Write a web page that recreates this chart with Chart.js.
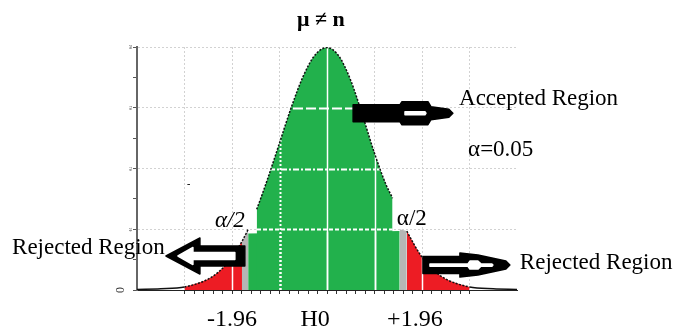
<!DOCTYPE html>
<html>
<head>
<meta charset="utf-8">
<title>Two tailed test</title>
<script src="https://cdn.jsdelivr.net/npm/chart.js@4.4.0/dist/chart.umd.min.js"></script>
<style>
  html, body { margin: 0; padding: 0; background: #fff; }
  canvas { display: block; }
</style>
</head>
<body>
<canvas id="chart" width="679" height="334"></canvas>
<script>
// ---------- Data ----------
const curveX = [-4, -3.5, -3, -2.5, -2.25, -2, -1.79, -1.66, -1.48, -1.25, -1, -0.75, -0.5, -0.25, 0,
                0.25, 0.5, 0.75, 1, 1.25, 1.38, 1.53, 1.68, 2, 2.25, 2.5, 3, 3.5, 4];
const curveY = [0.001, 0.002, 0.005, 0.018, 0.032, 0.054, 0.080, 0.100, 0.133, 0.183, 0.242, 0.301, 0.352, 0.387, 0.399,
                0.385, 0.345, 0.287, 0.225, 0.172, 0.151, 0.122, 0.097, 0.054, 0.032, 0.018, 0.005, 0.002, 0.001];

// coloured regions (x ranges on the curve)
const leftTail = [-3, -1.79];
const leftBand = [-1.79, -1.66];
const acceptTop = [-1.48, 1.38];
const rightTail = [1.68, 3];
// flat-topped pieces
const acceptStepX = [-1.66, 1.53];
const acceptStepY = [0.093, 0.097];
const rightBandX = [1.53, 1.68];
const rightBandY = [0.100, 0.097];
// parts of the outline that are cut away
const notches = [[-1.66, -1.48], [1.38, 1.68]];

const xTickValues = [-2, -0.25, 1.85];
const xTickLabels = ['-1.96', 'H0', '+1.96'];
const yTickValues = [0, 0.1, 0.2, 0.3, 0.4];
const yTickLabels = ['0', '0.1', '0.2', '0.3', '0.4'];

const GREEN = '#22b14c';
const RED = '#ed1c24';
const GREY = '#b5b5b5';
const SERIF = '"Liberation Serif", "Times New Roman", serif';

// ---------- Helpers ----------
function curvePart(from, to) {
  const pts = [];
  curveX.forEach((x, i) => {
    if (x >= from - 1e-9 && x <= to + 1e-9) pts.push({ x, y: curveY[i] });
  });
  return pts;
}
function pairs(xs, ys) {
  return xs.map((x, i) => ({ x, y: ys[i] }));
}
function inNotch(a, b) {
  return notches.some(([lo, hi]) => a >= lo - 1e-9 && b <= hi + 1e-9);
}
function isMult(v, step) {
  const r = v / step;
  return Math.abs(r - Math.round(r)) < 1e-6;
}

function fillSet(data, color, smooth) {
  return {
    data,
    fill: 'origin',
    backgroundColor: color,
    borderColor: 'rgba(0,0,0,0)',
    borderWidth: 0,
    pointRadius: 0,
    cubicInterpolationMode: smooth ? 'monotone' : 'default',
    tension: 0
  };
}

// ---------- Overlay: white grid inside fills, texts, arrows ----------
function drawWhiteGrid(chart) {
  const { ctx, scales: { x, y } } = chart;
  const base = y.getPixelForValue(0);
  const vLines = [[-2, []], [-1, [2, 2]], [0, []], [1, []], [2, []]];
  const hLines = [[0.1, [4, 2]], [0.2, [6, 2, 2, 2]], [0.3, [10, 3]]];
  [1, 2, 5, 6].forEach(i => {
    const meta = chart.getDatasetMeta(i);
    const pts = meta.data;
    if (!pts.length) return;
    ctx.save();
    ctx.beginPath();
    meta.dataset.path(ctx);
    ctx.lineTo(pts[pts.length - 1].x, base);
    ctx.lineTo(pts[0].x, base);
    ctx.closePath();
    ctx.clip();
    ctx.strokeStyle = '#fff';
    vLines.forEach(([v, dash]) => {
      const px = Math.round(x.getPixelForValue(v)) + 0.5;
      ctx.lineWidth = dash.length ? 2 : 1.5;
      ctx.setLineDash(dash);
      ctx.beginPath();
      ctx.moveTo(px, base);
      ctx.lineTo(px, chart.chartArea.top);
      ctx.stroke();
    });
    hLines.forEach(([v, dash]) => {
      const py = Math.round(y.getPixelForValue(v)) + 0.5;
      ctx.lineWidth = 2;
      ctx.setLineDash(dash);
      ctx.beginPath();
      ctx.moveTo(chart.chartArea.left, py);
      ctx.lineTo(chart.chartArea.right, py);
      ctx.stroke();
    });
    ctx.restore();
  });
}

// profile = [[dx, halfHeight], ...] along the arrow, scaled to tail->tip length
function drawArrowShape(ctx, x0, x1, yc, profile, color) {
  const d = Math.sign(x1 - x0);
  const len = Math.abs(x1 - x0);
  const k = len / profile[profile.length - 1][0];
  ctx.beginPath();
  profile.forEach(([dx, h], i) => {
    const px = x0 + d * dx * k;
    if (i === 0) ctx.moveTo(px, yc - h); else ctx.lineTo(px, yc - h);
  });
  for (let i = profile.length - 1; i >= 0; i--) {
    const [dx, h] = profile[i];
    ctx.lineTo(x0 + d * dx * k, yc + h);
  }
  ctx.closePath();
  ctx.fillStyle = color;
  ctx.fill();
  ctx.lineJoin = 'round';
  ctx.lineWidth = 1.5;
  ctx.strokeStyle = color;
  ctx.stroke();
}

const arrows = [
  { from: -1.73, to: -3.39, y: 0.056,
    outer: [[0, 10], [45, 10], [45, 18], [79, 0]],
    inner: [[10, 3.5], [52, 3.5], [52, 8.5], [67, 0]] },
  { from: 0.55, to: 2.65, y: 0.291,
    outer: [[0, 8.5], [47, 8.5], [49, 11.5], [75, 11.5], [78, 6.5], [96, 4], [100, 0]],
    inner: [[52, 1.5], [72, 1.5], [73, 0]] },
  { from: 2.02, to: 3.85, y: 0.041,
    outer: [[0, 8.5], [37, 8.5], [37, 12], [55, 10], [83, 4], [87, 0]],
    inner: [[7, 1.2], [45, 1.2], [47, 4], [55, 4], [58, 1.2], [69, 1.2], [70, 0]] }
];

const notes = [
  { text: 'μ ≠ n', x: -0.13, y: 0.444, size: 22, bold: true, align: 'center' },
  { text: 'Accepted Region', x: 2.78, y: 0.314, size: 23 },
  { text: 'α=0.05', x: 2.97, y: 0.230, size: 23 },
  { text: 'α/2', x: -2.36, y: 0.114, size: 23, italic: true },
  { text: 'α/2', x: 1.47, y: 0.117, size: 23 },
  { text: 'Rejected Region', x: -6.63, y: 0.069, size: 23 },
  { text: 'Rejected Region', x: 4.06, y: 0.044, size: 23 },
  { text: '-', x: -2.95, y: 0.173, size: 10, bold: true }
];

function drawOverlay(chart) {
  const { ctx, chartArea, scales: { x, y } } = chart;
  ctx.save();

  arrows.forEach(a => {
    const x0 = x.getPixelForValue(a.from);
    const x1 = x.getPixelForValue(a.to);
    const yc = y.getPixelForValue(a.y);
    drawArrowShape(ctx, x0, x1, yc, a.outer, '#000');
    const k = Math.abs(x1 - x0) / a.outer[a.outer.length - 1][0];
    const last = a.inner[a.inner.length - 1][0];
    const d = Math.sign(x1 - x0);
    const ix0 = x0 + d * a.inner[0][0] * k;
    const ix1 = x0 + d * last * k;
    const prof = a.inner.map(([dx, h]) => [dx - a.inner[0][0], h]);
    drawArrowShape(ctx, ix0, ix1, yc, prof, '#fff');
  });

  ctx.fillStyle = '#000';
  ctx.textBaseline = 'middle';
  notes.forEach(n => {
    ctx.font = `${n.italic ? 'italic ' : ''}${n.bold ? 'bold ' : ''}${n.size}px ${SERIF}`;
    ctx.textAlign = n.align || 'left';
    ctx.fillText(n.text, x.getPixelForValue(n.x), y.getPixelForValue(n.y));
  });

  // x tick labels
  ctx.font = `24px ${SERIF}`;
  ctx.textAlign = 'center';
  xTickValues.forEach((v, i) => {
    ctx.fillText(xTickLabels[i], x.getPixelForValue(v), chartArea.bottom + 30);
  });

  // y tick labels (rotated, tiny except the 0)
  yTickValues.forEach((v, i) => {
    const py = y.getPixelForValue(v);
    ctx.save();
    ctx.translate(chartArea.left - (v === 0 ? 16 : 6), py);
    ctx.rotate(-Math.PI / 2);
    ctx.font = `${v === 0 ? 12 : 3}px ${SERIF}`;
    ctx.textAlign = 'center';
    ctx.fillStyle = '#333';
    ctx.fillText(yTickLabels[i], 0, 0);
    ctx.restore();
  });

  ctx.restore();
}

const overlay = {
  id: 'overlay',
  beforeDatasetDraw(chart, args) {
    if (args.index === 0) drawWhiteGrid(chart);
  },
  afterDraw(chart) {
    drawOverlay(chart);
  }
};

// ---------- Chart ----------
const ctx = document.getElementById('chart').getContext('2d');
new Chart(ctx, {
  type: 'line',
  data: {
    datasets: [
      {
        // outline of the curve, drawn last (on top)
        data: curvePart(-4, 4),
        fill: false,
        borderColor: '#111',
        borderWidth: 1.5,
        borderDash: [2, 1.5],
        pointRadius: 0,
        cubicInterpolationMode: 'monotone',
        segment: {
          borderColor: c => inNotch(c.p0.parsed.x, c.p1.parsed.x) ? 'rgba(0,0,0,0)' : '#111',
          borderDash: c => Math.abs(c.p0.parsed.x) >= 3 - 1e-9 && Math.abs(c.p1.parsed.x) >= 3 - 1e-9 ? [] : [2, 1.5]
        }
      },
      fillSet(curvePart(acceptTop[0], acceptTop[1]), GREEN, true),
      fillSet(pairs(acceptStepX, acceptStepY), GREEN, false),
      fillSet(curvePart(leftBand[0], leftBand[1]), GREY, true),
      fillSet(pairs(rightBandX, rightBandY), GREY, false),
      fillSet(curvePart(leftTail[0], leftTail[1]), RED, true),
      fillSet(curvePart(rightTail[0], rightTail[1]), RED, true)
    ]
  },
  options: {
    responsive: false,
    animation: false,
    devicePixelRatio: 1,
    layout: { padding: { left: 0, top: 47, right: 162, bottom: 0 } },
    plugins: {
      legend: { display: false },
      tooltip: { enabled: false },
      title: { display: false }
    },
    scales: {
      x: {
        type: 'linear',
        min: -4,
        max: 4,
        afterFit: s => { s.height = 44; },
        ticks: { display: false, stepSize: 0.2 },
        grid: {
          color: c => (isMult(c.tick.value, 1) && Math.abs(c.tick.value) < 3.5) ? '#d2d2d2' : 'rgba(0,0,0,0)',
          lineWidth: 1,
          tickLength: 4,
          tickColor: c => Math.abs(c.tick.value) <= 3 + 1e-6 ? '#333' : 'rgba(0,0,0,0)'
        },
        border: { display: true, color: '#222', width: 1, dash: [2, 2] }
      },
      y: {
        min: 0,
        max: 0.4,
        afterFit: s => { s.width = 137; },
        ticks: { display: false, stepSize: 0.05 },
        grid: {
          color: c => (c.tick.value > 0.01 && isMult(c.tick.value, 0.1)) ? '#d2d2d2' : 'rgba(0,0,0,0)',
          lineWidth: 1,
          tickLength: 4,
          tickColor: '#555'
        },
        border: { display: true, color: '#666', width: 2, dash: [2, 2] }
      }
    }
  },
  plugins: [overlay]
});
</script>
</body>
</html>
